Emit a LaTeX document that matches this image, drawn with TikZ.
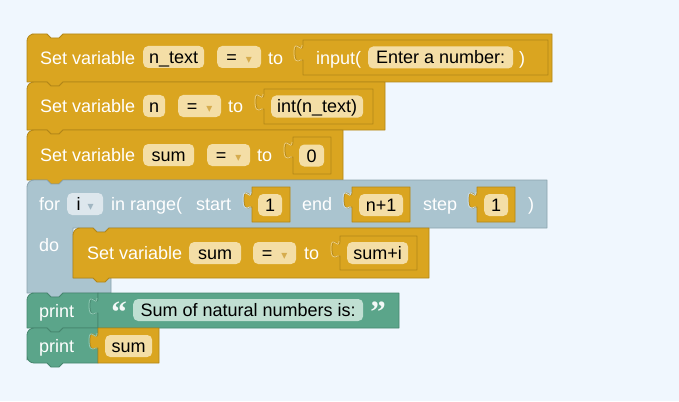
\documentclass[tikz,border=0pt]{standalone}
\usepackage{fontspec}
\setmainfont{Liberation Sans}
\newfontfamily\symf{DejaVu Sans}
\newfontfamily\qfont{Liberation Serif}

\definecolor{bgc}{RGB}{240,247,254}
\definecolor{varc}{RGB}{218,165,32}
\definecolor{vard}{RGB}{178,134,24}
\definecolor{varl}{RGB}{236,205,128}
\definecolor{pilly}{RGB}{244,222,166}
\definecolor{arry}{RGB}{214,172,78}
\definecolor{loopc}{RGB}{170,196,207}
\definecolor{loopd}{RGB}{140,164,174}
\definecolor{loopl}{RGB}{206,222,229}
\definecolor{pillb}{RGB}{221,231,237}
\definecolor{arrb}{RGB}{160,182,194}
\definecolor{txtc}{RGB}{91,165,138}
\definecolor{txtd}{RGB}{70,134,110}
\definecolor{txtl}{RGB}{145,200,180}
\definecolor{pillg}{RGB}{192,223,210}

% statement block: [bottom-left corner]{fill}{edge}{x1}{y1}{x2}{y2}
\newcommand{\stmtblk}[7][sharp corners]{%
  \filldraw[fill=#2, draw=#3, blk] (#4, #7-10) [rounded corners=7pt] -- (#4, #5) -- (#4+12, #5) [sharp corners]
    -- (#4+20, #5) -- (#4+24, #5+4) -- (#4+32, #5+4) -- (#4+36, #5) -- (#6, #5) -- (#6, #7)
    -- (#4+36, #7) -- (#4+32, #7+4) -- (#4+24, #7+4) -- (#4+20, #7) -- (#4+12, #7) [#1] -- (#4, #7) -- (#4, #7-10) -- cycle;}
% value block with a tab on its left: {fill}{edge}{socket}{x1}{y1}{x2}{y2}
\newcommand{\valblk}[7]{%
  \filldraw[fill=#1, draw=#2, blk] (#4, #5) -- (#6, #5) -- (#6, #7) -- (#4, #7) -- (#4, #5+20)
    .. controls (#4, #5+17.5) and (#4-8, #5+28) .. (#4-8, #5+12.5)
    .. controls (#4-8, #5-3) and (#4, #5+15) .. (#4, #5+5) -- cycle;
  \draw[#3, blk] (#4-1, #5+20) .. controls (#4-1, #5+17.5) and (#4-9, #5+28) .. (#4-9, #5+12.5)
    .. controls (#4-9, #5-3) and (#4-1, #5+15) .. (#4-1, #5+5);}
\newcommand{\dropmark}[1]{\textcolor{#1}{\symf\fontsize{12}{12}\selectfont ▾}}
\newcommand{\eqdrop}{=\hspace{9pt}\dropmark{arry}}

\begin{document}
\begin{tikzpicture}[x=1pt, y=-1pt,
    font=\fontsize{18}{20}\selectfont,
    blk/.style={line width=0.8pt, line join=round},
    lbl/.style={text=white, anchor=west, inner sep=0pt, text height=13pt, text depth=0pt},
    pill/.style={fill=#1, rounded corners=5pt, anchor=west, inner xsep=6pt, inner ysep=0pt, minimum height=22pt, text height=13pt, text depth=0pt, text=black},
    pill/.default=pilly,
    qmark/.style={text=white!92!txtc, anchor=base, inner sep=0pt, font=\fontsize{31}{31}\selectfont\qfont\bfseries}
    ]
\fill[bgc] (0, 0) rectangle (679, 401);
\useasboundingbox (0, 0) rectangle (679, 401);

% n_text = input(...)
\stmtblk{varc}{vard}{27}{34}{552}{82}
\node[lbl] at (40, 58) (SET1) {Set variable};
\node[pill, minimum width=61pt] at (143, 57) (VAR1) {n\_text};
\node[pill, minimum width=44pt] at (217, 57) (EQ1) {\eqdrop};
\node[lbl] at (268, 58) (TO1) {to};
\valblk{varc}{vard}{varl}{303}{40}{548}{75}
\node[lbl] at (316, 58) (IN1) {input(};
\node[pill, minimum width=145pt] at (368, 57.5) (STR1) {Enter a number:};
\node[lbl] at (519, 58) (CL1) {)};

% n = int(n_text)
\stmtblk{varc}{vard}{27}{82}{385}{130}
\node[lbl] at (40, 106) (SET2) {Set variable};
\node[pill, minimum width=21pt] at (143, 106) (VAR2) {n};
\node[pill, minimum width=43pt] at (178, 106) (EQ2) {\eqdrop};
\node[lbl] at (228, 106) (TO2) {to};
\valblk{varc}{vard}{varl}{264}{89}{373}{124}
\node[pill, minimum width=92pt] at (271, 106.5) (INT2) {int(n\_text)};

% sum = 0
\stmtblk{varc}{vard}{27}{130}{343}{180}
\node[lbl] at (40, 155) (SET3) {Set variable};
\node[pill, minimum width=51pt] at (143, 155) (VAR3) {sum};
\node[pill, minimum width=43pt] at (207, 155) (EQ3) {\eqdrop};
\node[lbl] at (257, 155) (TO3) {to};
\valblk{varc}{vard}{varl}{293}{137}{331}{174}
\node[pill, minimum width=25pt] at (299, 155.5) (NUM3) {0};

% for loop
\filldraw[fill=loopc, draw=loopd, blk] (27, 270) [rounded corners=7pt] -- (27, 180) -- (39, 180) [sharp corners]
  -- (47, 180) -- (51, 184) -- (59, 184) -- (63, 180) -- (547, 180) -- (547, 228)
  -- (109, 228) -- (105, 232) -- (97, 232) -- (93, 228) -- (73, 228) -- (73, 278) -- (111, 278)
  -- (111, 293) -- (63, 293) -- (59, 297) -- (51, 297) -- (47, 293) -- (27, 293) -- cycle;
\node[lbl] at (39, 204) (FOR) {for};
\node[pill=pillb, minimum width=36pt] at (67, 204) (IVAR) {i\hspace{7pt}\dropmark{arrb}};
\node[lbl] at (111, 204) (RNG) {in range(};
\node[lbl] at (196, 204) (START) {start};
\valblk{varc}{vard}{loopl}{252}{187}{290}{222}
\node[pill, minimum width=24pt] at (258, 205) (ST1) {1};
\node[lbl] at (302, 204) (END) {end};
\valblk{varc}{vard}{loopl}{352}{187}{410}{222}
\node[pill, minimum width=44pt] at (359, 205) (EN1) {n+1};
\node[lbl] at (423, 204) (STEP) {step};
\valblk{varc}{vard}{loopl}{477}{187}{515}{222}
\node[pill, minimum width=24pt] at (484, 205) (SP1) {1};
\node[lbl] at (528, 204) (CLR) {)};
\node[lbl] at (39, 245) (DO) {do};

% sum = sum+i
\stmtblk{varc}{vard}{73}{228}{429}{278}
\node[lbl] at (87, 253) (SET4) {Set variable};
\node[pill, minimum width=52pt] at (189, 253) (VAR4) {sum};
\node[pill, minimum width=43pt] at (253, 253) (EQ4) {\eqdrop};
\node[lbl] at (304, 253) (TO4) {to};
\valblk{varc}{vard}{varl}{340}{236}{417}{270}
\node[pill, minimum width=61pt] at (347, 253) (ADD4) {sum+i};

% print text
\stmtblk{txtc}{txtd}{27}{293}{98}{328}
\node[lbl] at (39, 311) (PR1) {print};
\valblk{txtc}{txtd}{txtl}{98}{293}{399}{328}
\node[qmark] at (119, 322) (QL) {“};
\node[pill=pillg, minimum width=230pt] at (133, 310) (MSG) {Sum of natural numbers is:};
\node[qmark] at (378, 322) (QR) {”};

% print sum
\stmtblk[rounded corners=7pt]{txtc}{txtd}{27}{328}{98}{363}
\node[lbl] at (39, 346) (PR2) {print};
\valblk{varc}{vard}{txtl}{98}{328}{159}{363}
\node[pill, minimum width=47pt] at (105, 346) (SUM5) {sum};
\end{tikzpicture}
\end{document}
